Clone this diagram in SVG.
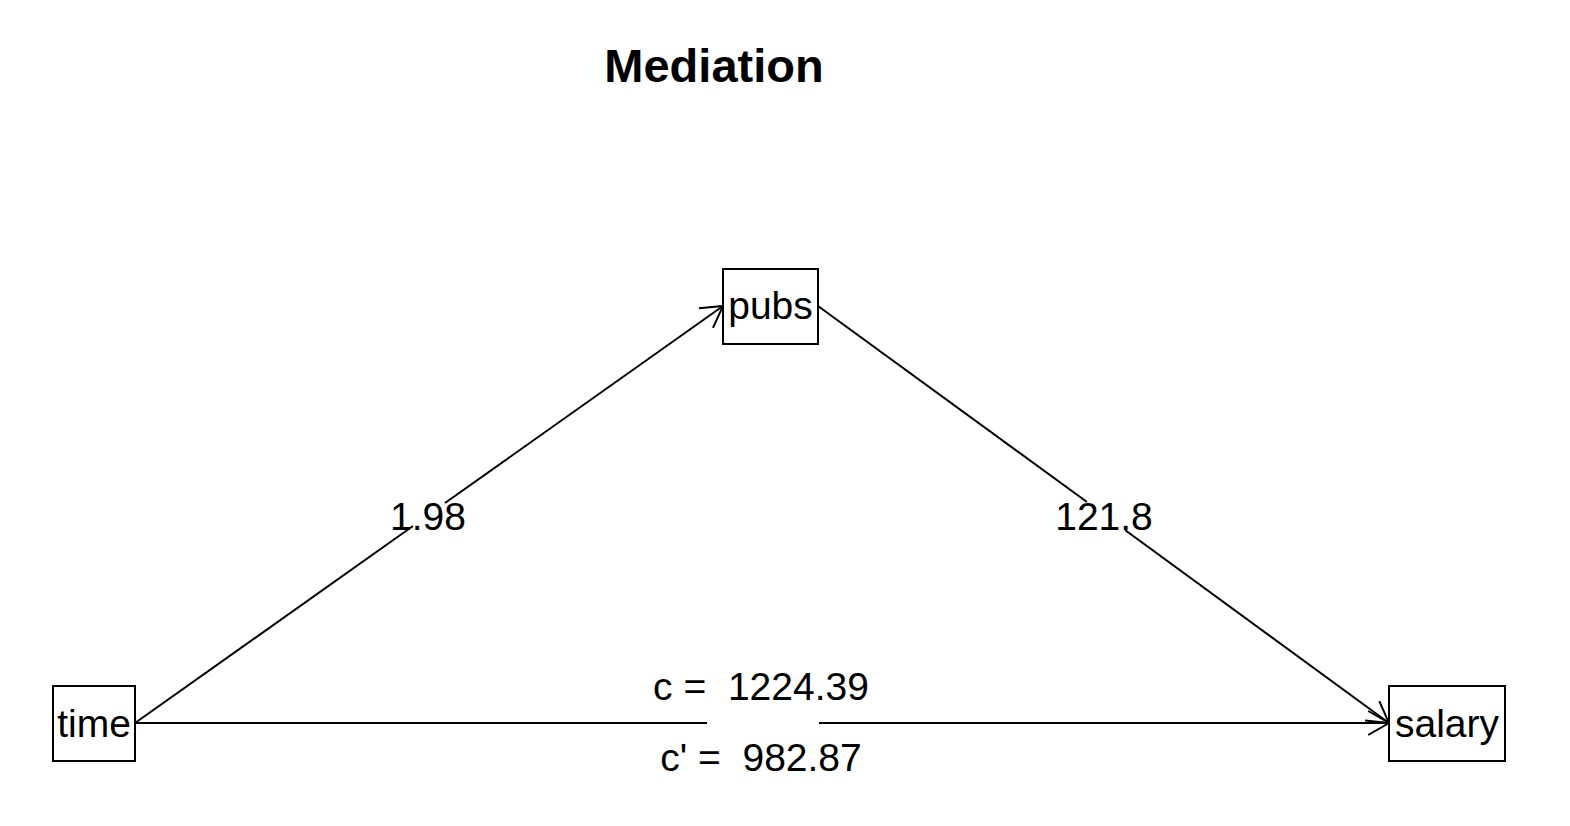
<svg xmlns="http://www.w3.org/2000/svg" width="1570" height="826" viewBox="0 0 1570 826">
<style>
  .box { fill: #ffffff; stroke: #000000; stroke-width: 2; }
  .lbl { font-family: "Liberation Sans", Arial, sans-serif; font-size: 39px; fill: #000000; text-anchor: middle; white-space: pre; }
  .title { font-family: "Liberation Sans", Arial, sans-serif; font-size: 47px; font-weight: bold; fill: #000000; text-anchor: middle; }
  .edge { fill: none; stroke: #000000; stroke-width: 2; }
</style>
<defs>
  <marker id="arr" markerUnits="userSpaceOnUse" markerWidth="30" markerHeight="30" viewBox="-24 -15 28 30" refX="0" refY="0" orient="auto">
    <path d="M -20.8,-12 L 0,0 L -20.8,12" fill="none" stroke="#000000" stroke-width="2"/>
  </marker>
</defs>
<rect width="1570" height="826" fill="#ffffff"/>
<text class="title" x="714" y="82">Mediation</text>
<g id="connectors">
  <line class="edge" x1="135" y1="723" x2="413" y2="526"/>
  <line class="edge" x1="445" y1="503" x2="723" y2="306" marker-end="url(#arr)"/>
  <line class="edge" x1="818" y1="306" x2="1087" y2="502"/>
  <line class="edge" x1="1125" y1="530" x2="1389" y2="723" marker-end="url(#arr)"/>
  <line class="edge" x1="135" y1="723" x2="707" y2="723"/>
  <line class="edge" x1="819" y1="723" x2="1389" y2="723" marker-end="url(#arr)"/>
  <text class="lbl" x="428" y="530">1.98</text>
  <text class="lbl" x="1104" y="530">121.8</text>
  <text class="lbl" x="761" y="700">c =  1224.39</text>
  <text class="lbl" x="761" y="771">c' =  982.87</text>
</g>
<g id="node-pubs">
  <rect class="box" x="723" y="269" width="95" height="75"/>
  <text class="lbl" x="770.5" y="319">pubs</text>
</g>
<g id="node-time">
  <rect class="box" x="53" y="686" width="82" height="75"/>
  <text class="lbl" x="94" y="737">time</text>
</g>
<g id="node-salary">
  <rect class="box" x="1389" y="686" width="116" height="75"/>
  <text class="lbl" x="1447" y="737">salary</text>
</g>
</svg>
